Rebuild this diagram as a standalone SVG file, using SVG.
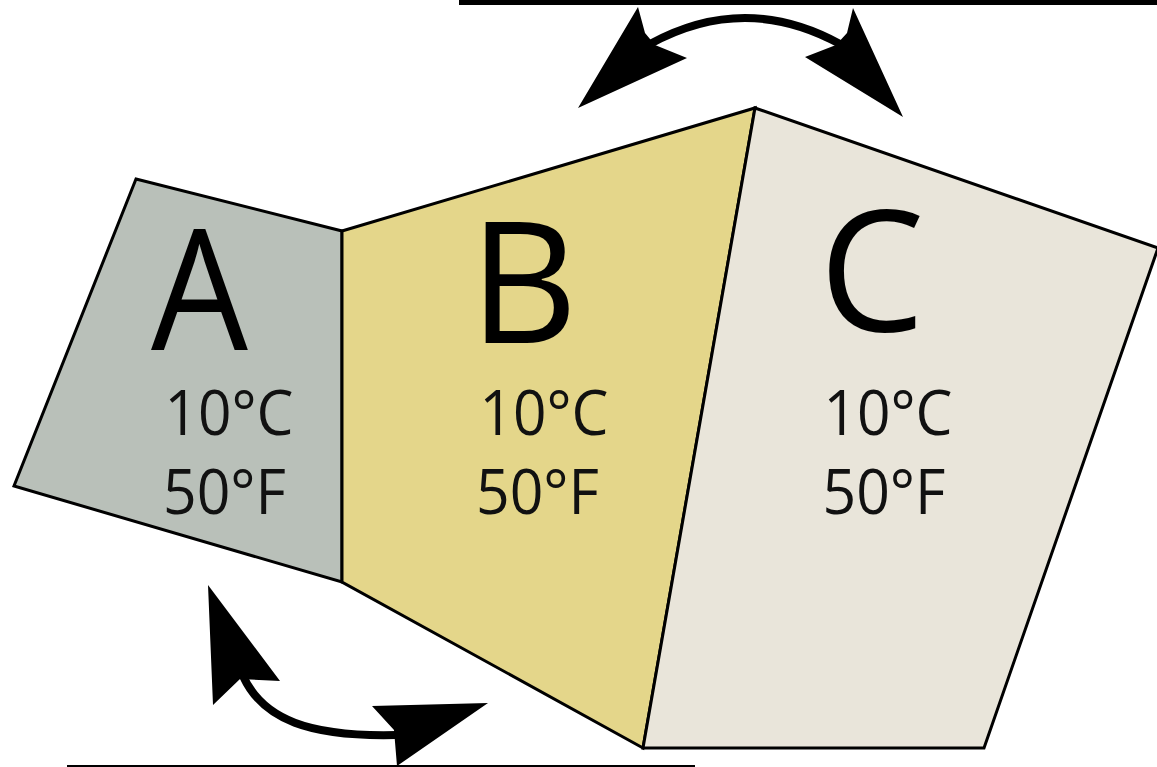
<svg xmlns="http://www.w3.org/2000/svg" width="1157" height="767" viewBox="0 0 1157 767">
  <style>
    .zone { stroke: #000; stroke-width: 3; stroke-linejoin: miter; }
    .big { font-family: "Open Sans", "Liberation Sans", sans-serif; font-size: 168px; fill: #000; text-anchor: middle; }
    .temp { font-family: "Open Sans", "Liberation Sans", sans-serif; font-size: 62px; fill: #111; text-anchor: middle; }
    .shaft { fill: none; stroke: #000; stroke-width: 8; stroke-linecap: butt; }
    .head { fill: #000; stroke: none; }
  </style>
  <rect width="1157" height="767" fill="#fff"/>
  <!-- frame lines -->
  <rect x="459" y="0" width="698" height="5" fill="#000"/>
  <rect x="67" y="765" width="628" height="2" fill="#000"/>

  <g id="zone-a">
    <polygon class="zone" fill="#b9c0b9" points="136,179 342,231 342,582 14,486"/>
    <text class="big" x="199.5" y="350" textLength="97" lengthAdjust="spacingAndGlyphs">A</text>
    <text class="temp" x="229" y="435" textLength="129" lengthAdjust="spacingAndGlyphs">10°C</text>
    <text class="temp" x="224.5" y="514" textLength="123" lengthAdjust="spacingAndGlyphs">50°F</text>
  </g>
  <g id="zone-b">
    <polygon class="zone" fill="#e4d68a" points="342,231 755,108 643,748 342,582"/>
    <text class="big" x="523.5" y="343">B</text>
    <text class="temp" x="544" y="435" textLength="129" lengthAdjust="spacingAndGlyphs">10°C</text>
    <text class="temp" x="537.5" y="514" textLength="123" lengthAdjust="spacingAndGlyphs">50°F</text>
  </g>
  <g id="zone-c">
    <polygon class="zone" fill="#e9e5da" points="755,108 1158,248 984,748 643,748"/>
    <text class="big" x="872" y="331">C</text>
    <text class="temp" x="888" y="435" textLength="129" lengthAdjust="spacingAndGlyphs">10°C</text>
    <text class="temp" x="884" y="514" textLength="123" lengthAdjust="spacingAndGlyphs">50°F</text>
  </g>

  <g id="connectors">
    <!-- top double arrow between B and C -->
    <path class="shaft" d="M650,44 Q745,-8 840,44"/>
    <polygon class="head" points="638,7 578,108 687,58 655,45 645,33"/>
    <polygon class="head" points="853,8 903,117 805,57 836,45 847,33"/>
    <!-- bottom double arrow between A and B -->
    <path class="shaft" d="M243,676 C263,720 310,737 396,735"/>
    <polygon class="head" points="208,585 280,681 240,679 213,705"/>
    <polygon class="head" points="372,706 488,703 397,766 394,730"/>
  </g>
</svg>
